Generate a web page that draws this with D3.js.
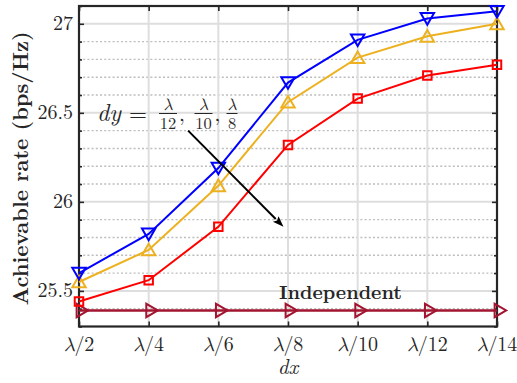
<!DOCTYPE html>
<html>
<head>
<meta charset="utf-8">
<script src="https://cdn.jsdelivr.net/npm/d3@7"></script>
</head>
<body style="margin:0;background:#fff">
<svg id="chart" width="517" height="383" style="display:block"></svg>
<script>
// ---- data ----
const categories = ["2", "4", "6", "8", "10", "12", "14"];     // dx = λ / n
const seriesDy12 = [25.60, 25.82, 26.19, 26.67, 26.91, 27.03, 27.07];
const seriesDy10 = [25.55, 25.73, 26.09, 26.56, 26.81, 26.93, 27.00];
const seriesDy8  = [25.44, 25.56, 25.86, 26.32, 26.58, 26.71, 26.77];
const seriesIndependent = [25.39, 25.39, 25.39, 25.39, 25.39, 25.39, 25.39];
const yMajorTicks = [25.5, 26, 26.5, 27];
const yMinorTicks = [25.3, 25.4, 25.6, 25.7, 25.8, 25.9, 26.1, 26.2, 26.3, 26.4,
                     26.6, 26.7, 26.8, 26.9, 27.1];
const yDomain = [25.3, 27.1];
const fractionDenominators = ["12", "10", "8"];

// ---- fonts ----
const ROMAN = '"Latin Modern Roman", "CMU Serif", "Liberation Serif", serif';
const GREEK = '"Latin Modern Math", "CMU Serif", "Liberation Serif", serif';
const INK = "#262626";

// ---- layout ----
const svg = d3.select("#chart");
const plotLeft = 79, plotRight = 497, plotTop = 6, plotBottom = 326.5;

const x = d3.scalePoint().domain(categories).range([plotLeft, plotRight]).padding(0);
const xi = d3.scaleLinear().domain([0, categories.length - 1]).range([plotLeft, plotRight]);
const y = d3.scaleLinear().domain(yDomain).range([plotBottom, plotTop]);

function txt(sel) { return sel.style("font-family", ROMAN).attr("fill", INK); }

// ---- grid ----
const grid = svg.append("g");
grid.selectAll("line.minor").data(yMinorTicks.filter(v => v > yDomain[0] && v < yDomain[1]))
  .join("line").attr("class", "minor")
  .attr("x1", plotLeft).attr("x2", plotRight)
  .attr("y1", d => y(d)).attr("y2", d => y(d))
  .attr("stroke", "#bdbdbd").attr("stroke-width", 1.4).attr("stroke-dasharray", "2,2.2");
grid.selectAll("line.hmaj").data(yMajorTicks)
  .join("line").attr("class", "hmaj")
  .attr("x1", plotLeft).attr("x2", plotRight)
  .attr("y1", d => y(d)).attr("y2", d => y(d))
  .attr("stroke", "#dedede").attr("stroke-width", 2);
grid.selectAll("line.vmaj").data(categories)
  .join("line").attr("class", "vmaj")
  .attr("x1", d => x(d)).attr("x2", d => x(d))
  .attr("y1", plotTop).attr("y2", plotBottom)
  .attr("stroke", "#dedede").attr("stroke-width", 2);

// ---- axes (ticks inside, box) ----
const axB = d3.axisBottom(x).tickSizeInner(-5).tickSizeOuter(0).tickFormat("");
const axT = d3.axisTop(x).tickSizeInner(-5).tickSizeOuter(0).tickFormat("");
const axL = d3.axisLeft(y).tickValues(yMajorTicks).tickSizeInner(-5).tickSizeOuter(0).tickFormat("");
const axR = d3.axisRight(y).tickValues(yMajorTicks).tickSizeInner(-5).tickSizeOuter(0).tickFormat("");
const axLm = d3.axisLeft(y).tickValues(yMinorTicks).tickSizeInner(-3).tickSizeOuter(0).tickFormat("");
const axRm = d3.axisRight(y).tickValues(yMinorTicks).tickSizeInner(-3).tickSizeOuter(0).tickFormat("");

function styleAxis(g) {
  g.select(".domain").remove();
  g.selectAll(".tick line").attr("stroke", INK).attr("stroke-width", 1.6);
}
svg.append("g").attr("transform", `translate(0,${plotBottom})`).call(axB).call(styleAxis);
svg.append("g").attr("transform", `translate(0,${plotTop})`).call(axT).call(styleAxis);
svg.append("g").attr("transform", `translate(${plotLeft},0)`).call(axL).call(styleAxis);
svg.append("g").attr("transform", `translate(${plotRight},0)`).call(axR).call(styleAxis);
svg.append("g").attr("transform", `translate(${plotLeft},0)`).call(axLm).call(styleAxis);
svg.append("g").attr("transform", `translate(${plotRight},0)`).call(axRm).call(styleAxis);

svg.append("rect").attr("x", plotLeft).attr("y", plotTop)
  .attr("width", plotRight - plotLeft).attr("height", plotBottom - plotTop)
  .attr("fill", "none").attr("stroke", INK).attr("stroke-width", 2.2);

// ---- tick labels ----
svg.append("g").selectAll("text").data(yMajorTicks).join("text")
  .call(txt)
  .attr("x", plotLeft - 6).attr("y", d => y(d) + 6.5)
  .attr("text-anchor", "end").attr("font-size", 20)
  .text(d => d3.format("")(d));

const xl = svg.append("g").selectAll("text").data(categories).join("text")
  .call(txt)
  .attr("x", d => x(d)).attr("y", 350.5)
  .attr("text-anchor", "middle").attr("font-size", 20);
xl.append("tspan").style("font-family", GREEK).attr("font-style", "italic").text("λ");
xl.append("tspan").text(d => "/" + d);

// ---- axis titles ----
svg.append("text").call(txt)
  .attr("x", x(categories[3])).attr("y", 374)
  .attr("text-anchor", "middle").attr("font-size", 21).attr("font-style", "italic")
  .text("dx");

svg.append("text").call(txt)
  .attr("transform", "translate(28,168.5) rotate(-90)")
  .attr("text-anchor", "middle").attr("font-size", 21).attr("font-weight", "bold")
  .attr("textLength", 274).attr("lengthAdjust", "spacingAndGlyphs")
  .text("Achievable rate (bps/Hz)");

// ---- series ----
const series = [
  { values: seriesIndependent, color: "#A2142F", marker: "right", width: 2.4 },
  { values: seriesDy8,  color: "#FF0000", marker: "square", width: 2 },
  { values: seriesDy10, color: "#EDB120", marker: "up", width: 2 },
  { values: seriesDy12, color: "#0000FF", marker: "down", width: 2 }
];

const line = d3.line().x((d, i) => x(categories[i])).y(d => y(d));
const tri = d3.symbol().type(d3.symbolTriangle).size(78)();
const markerPath = { up: tri, down: tri, right: tri, square: d3.symbol().type(d3.symbolSquare).size(72)() };
const markerRot = { up: 0, down: 180, right: 90, square: 0 };
const markerShift = { up: 1.5, down: -1.5, right: 0, square: 0 };

series.forEach(s => {
  const g = svg.append("g");
  g.append("path").datum(s.values)
    .attr("d", line).attr("fill", "none")
    .attr("stroke", s.color).attr("stroke-width", s.width);
  g.selectAll("path.m").data(s.values).join("path").attr("class", "m")
    .attr("d", markerPath[s.marker])
    .attr("transform", (d, i) => `translate(${x(categories[i]) + (s.marker === "right" ? 1.5 : 0)},${y(d) + markerShift[s.marker]}) rotate(${markerRot[s.marker]})`)
    .attr("fill", "none").attr("stroke", s.color).attr("stroke-width", 2);
});

// ---- annotations ----
svg.append("text").call(txt)
  .attr("x", xi(3.0) - 9).attr("y", y(25.39) - 11)
  .attr("text-anchor", "start").attr("font-size", 19).attr("font-weight", "bold")
  .attr("textLength", 123).attr("lengthAdjust", "spacingAndGlyphs")
  .text("Independent");

// dy = λ/12, λ/10, λ/8 with stacked fractions
const eq = svg.append("g");
const eqBase = 121;
eq.append("text").call(txt).attr("x", 97).attr("y", eqBase)
  .attr("font-size", 24).attr("font-style", "italic").text("dy");
eq.append("text").call(txt).attr("x", 129).attr("y", eqBase)
  .attr("font-size", 23).text("=");
const fracCenters = [168, 203.5, 232];
fractionDenominators.forEach((den, k) => {
  const cx = fracCenters[k];
  const w = den.length > 1 ? 18 : 11;
  eq.append("text").call(txt).attr("x", cx).attr("y", 109.5).attr("text-anchor", "middle")
    .attr("font-size", 16.5).attr("font-style", "italic").style("font-family", GREEK).text("λ");
  eq.append("line").attr("x1", cx - w / 2).attr("x2", cx + w / 2)
    .attr("y1", 113.5).attr("y2", 113.5).attr("stroke", INK).attr("stroke-width", 1);
  eq.append("text").call(txt).attr("x", cx).attr("y", 129).attr("text-anchor", "middle")
    .attr("font-size", 16.5).text(den);
  if (k < fractionDenominators.length - 1) {
    eq.append("text").call(txt).attr("x", cx + (den.length > 1 ? 11 : 7)).attr("y", eqBase)
      .attr("font-size", 21).text(",");
  }
});

// arrow from the label down toward the curves
const a0 = [xi(1.566), y(26.40)], a1 = [xi(2.935), y(25.86)];
const ang = Math.atan2(a1[1] - a0[1], a1[0] - a0[0]);
const headLen = 11, headW = 4;
const hb = [a1[0] - headLen * Math.cos(ang), a1[1] - headLen * Math.sin(ang)];
svg.append("line")
  .attr("x1", a0[0]).attr("y1", a0[1]).attr("x2", hb[0]).attr("y2", hb[1])
  .attr("stroke", "#000").attr("stroke-width", 2);
svg.append("path")
  .attr("d", `M${a1[0]},${a1[1]}L${hb[0] - headW * Math.sin(ang)},${hb[1] + headW * Math.cos(ang)}L${hb[0] + 2 * Math.cos(ang)},${hb[1] + 2 * Math.sin(ang)}L${hb[0] + headW * Math.sin(ang)},${hb[1] - headW * Math.cos(ang)}Z`)
  .attr("fill", "#000");
</script>
</body>
</html>
